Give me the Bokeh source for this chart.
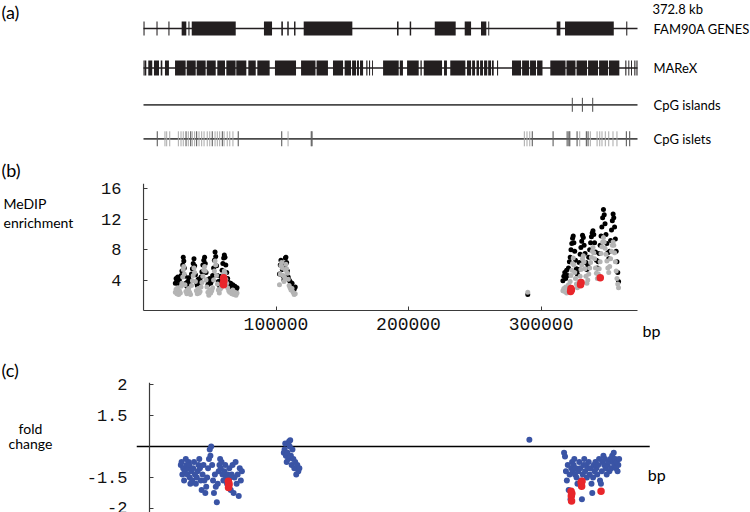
import numpy as np
from bokeh.plotting import figure
from bokeh.models import Range1d, FixedTicker, LinearAxis
from bokeh.layouts import column, row
from bokeh.core.properties import value
from bokeh.embed import file_html
from bokeh.resources import INLINE

# ---------------- data (positions in kb) ----------------
track_names = ["FAM90A GENES", "MAReX", "CpG islands", "CpG islets"]
region_kb = 372.8
region_label = "372.8 kb"
panel_tags = ["(a)", "(b)", "(c)"]
medip_title = ["MeDIP", "enrichment"]
fold_title = ["fold", "change"]
x_unit = "bp"

gene_start = [0.0, 9.8, 18.8, 28.8, 33.9, 36.4, 90.9, 104.0, 108.5, 113.6, 120.9, 191.3,
              200.9, 219.8, 242.4, 254.7, 260.2, 311.8, 318.1, 364.3]
gene_end = [0.8, 10.6, 19.6, 32.3, 34.7, 69.6, 97.0, 105.2, 109.6, 114.7, 157.6, 192.5,
            202.0, 235.6, 247.2, 258.7, 260.9, 314.6, 354.9, 365.1]

marex_start = [0.0, 0.9, 3.6, 7.9, 13.0, 16.2, 23.8, 32.6, 40.1, 47.7, 55.7, 62.5, 70.0, 79.1,
               85.9, 99.2, 118.9, 130.6, 143.0, 151.8, 157.4, 161.1, 163.4, 168.1, 170.2, 172.5,
               180.8, 193.4, 198.9, 209.0, 211.5, 226.8, 231.5, 244.1, 248.0, 251.3, 254.0, 257.0,
               260.1, 263.0, 266.8, 278.1, 285.7, 291.7, 297.0, 307.0, 319.2, 326.8, 335.5, 343.8,
               351.3, 363.6, 365.9, 367.9, 370.4, 372.0]
marex_end = [0.8, 2.1, 6.6, 11.7, 14.2, 19.2, 31.8, 39.4, 46.9, 54.5, 61.5, 69.5, 77.6, 84.7,
             95.2, 115.1, 129.8, 139.2, 150.6, 156.6, 160.4, 162.6, 165.7, 169.0, 171.0, 173.2,
             192.6, 195.8, 207.7, 210.0, 225.3, 229.0, 242.9, 247.2, 250.2, 253.2, 256.2, 259.4,
             262.3, 264.3, 267.6, 284.9, 291.0, 296.2, 301.1, 318.5, 326.0, 334.7, 343.0, 350.6,
             359.1, 364.4, 366.6, 368.6, 371.2, 372.8]

cpg_islands_kb = [323.6, 331.2, 339.0]
cpg_islets_strong_kb = [10.4, 32.1, 35.6, 40.1, 51.9, 59.5, 71.5, 104.3, 126.6, 127.2, 293.4,
                        309.1, 319.7, 321.0, 321.7, 327.2, 334.2, 335.5, 364.4, 366.9]
cpg_islets_weak_kb = [16.2, 17.5, 19.8, 26.3, 28.3, 30.0, 33.8, 36.8, 38.6, 41.9, 43.9, 45.7,
                      48.1, 50.0, 54.0, 55.7, 57.5, 60.8, 63.2, 65.1, 67.5, 109.1, 287.4, 289.4,
                      291.5, 329.2, 337.2, 342.3, 344.3, 346.0, 348.5, 351.1, 354.3, 357.3]

probe_kb = [
    24.0, 24.6, 25.2, 25.8, 26.5, 27.1, 27.8, 28.4, 29.0, 29.6,
    30.0, 30.4, 30.8, 31.3, 32.0, 32.7, 33.4, 34.1, 34.8, 35.5,
    36.2, 36.9, 37.5, 38.1, 38.6, 39.2, 39.9, 40.6, 41.3, 42.0,
    42.7, 43.4, 44.1, 44.8, 45.5, 46.1, 46.6, 47.2, 47.9, 48.6,
    49.3, 50.0, 50.7, 51.5, 52.2, 52.9, 53.5, 54.0, 54.5, 55.1,
    55.8, 56.5, 57.2, 57.9, 58.6, 59.3, 59.9, 60.5, 61.0, 61.5,
    62.1, 62.8, 63.5, 64.3, 65.0, 65.8, 66.6, 67.4, 68.2, 69.0,
    69.8, 70.6,
    102.6, 103.2, 103.7, 104.2, 104.8, 105.4, 106.0, 106.6, 107.1, 107.5,
    108.0, 108.6, 109.2, 109.9, 110.6, 111.3, 112.1, 112.9, 113.7, 114.5,
    290.0,
    316.5, 317.2, 317.9, 318.6, 319.3, 320.0, 320.7, 321.4, 322.0, 322.6,
    323.2, 323.8, 324.3, 324.8, 325.4, 326.0, 326.7, 327.4, 328.1, 328.8,
    329.5, 330.1, 330.7, 331.3, 331.9, 332.5, 333.2, 333.9, 334.6, 335.3,
    336.0, 336.7, 337.4, 338.0, 338.6, 339.2, 339.8, 340.4, 341.1, 341.8,
    342.5, 343.2, 343.9, 344.6, 345.3, 345.9, 346.5, 347.1, 347.7, 348.3,
    349.0, 349.7, 350.4, 351.1, 351.8, 352.5, 353.2, 353.8, 354.4, 354.9,
    355.5, 356.1, 356.7, 357.3, 357.9, 358.5]

medip_black = [
    3.6, 4.2, 3.9, 4.4, 3.3, 4.0, 3.5, 4.6, 5.2, 6.0,
    7.0, 6.5, 5.6, 4.5, 3.6, 3.2, 3.8, 4.3, 3.4, 3.9,
    4.8, 5.5, 6.2, 6.8, 5.9, 4.7, 3.7, 3.3, 4.1, 3.5,
    3.9, 4.4, 5.1, 6.0, 6.6, 7.0, 6.2, 5.0, 4.0, 3.4,
    3.7, 4.2, 3.6, 3.9, 4.6, 5.6, 6.6, 7.7, 7.1, 5.9,
    4.6, 3.8, 3.3, 3.9, 4.5, 5.3, 6.2, 6.9, 7.3, 7.0,
    6.0, 5.0, 4.2, 3.7, 3.2, 3.6, 3.0, 3.4, 2.8, 3.2,
    2.7, 3.0,
    4.8, 6.0, 6.6, 6.2, 5.4, 4.5, 4.0, 5.6, 6.9, 7.0,
    6.3, 5.2, 4.4, 4.0, 3.8, 3.5, 3.6, 3.0, 2.8, 3.1,
    2.1,
    3.9, 4.5, 5.0, 4.2, 5.3, 4.6, 5.6, 6.4, 7.0, 8.0,
    8.8, 9.5, 9.8, 8.9, 7.8, 6.6, 5.5, 4.8, 5.4, 6.3,
    7.4, 8.3, 9.1, 9.9, 9.6, 8.6, 7.5, 6.3, 5.4, 6.0,
    7.0, 8.0, 8.9, 9.7, 10.2, 10.5, 10.0, 8.9, 7.7, 6.6,
    5.6, 6.4, 7.5, 8.6, 9.8, 11.0, 12.2, 13.3, 12.6, 11.4,
    10.0, 8.8, 7.6, 6.8, 7.8, 9.2, 10.6, 11.8, 12.7, 12.2,
    11.0, 9.4, 7.8, 6.4, 5.0, 3.8]

medip_grey = [
    2.4, 2.8, 2.2, 3.0, 2.1, 2.6, 2.3, 3.2, 3.6, 4.4,
    5.4, 5.8, 4.8, 3.4, 2.5, 2.2, 2.7, 2.9, 2.4, 2.1,
    3.3, 3.9, 4.6, 5.6, 5.0, 3.8, 2.6, 2.2, 2.9, 2.3,
    2.5, 3.1, 3.7, 4.5, 5.3, 5.8, 5.2, 4.0, 3.1, 2.4,
    2.0, 2.7, 2.3, 2.6, 3.0, 4.0, 5.2, 6.5, 6.0, 4.6,
    3.5, 2.7, 2.3, 2.8, 3.0, 3.5, 4.3, 4.8, 5.2, 4.9,
    4.1, 3.6, 3.0, 2.6, 2.4, 2.5, 2.2, 2.7, 2.1, 2.4,
    2.0, 2.3,
    3.4, 4.8, 5.9, 6.3, 5.6, 4.6, 3.8, 4.3, 5.3, 6.1,
    5.5, 4.9, 4.1, 3.3, 3.0, 2.7, 2.9, 2.4, 2.1, 2.2,
    2.4,
    2.6, 2.9, 2.5, 3.1, 2.3, 2.8, 3.4, 2.6, 3.8, 4.6,
    5.3, 6.2, 6.9, 6.0, 5.0, 4.2, 3.5, 3.0, 3.3, 3.8,
    4.5, 5.4, 6.0, 6.8, 7.2, 6.4, 5.5, 4.5, 3.6, 4.0,
    4.8, 5.6, 6.3, 7.0, 7.8, 8.3, 7.6, 6.8, 5.6, 4.9,
    4.2, 4.8, 5.5, 6.4, 7.5, 8.4, 9.0, 9.6, 9.0, 8.2,
    7.4, 6.5, 5.6, 5.0, 5.8, 6.8, 7.8, 8.6, 9.0, 8.6,
    7.6, 6.4, 5.2, 4.2, 3.5, 3.0]

fold_change = [
    -1.30, -1.25, -1.45, -1.35, -1.55, -1.40, -1.20, -1.30, -1.45, -1.35,
    -1.25, -1.30, -1.50, -1.60, -1.40, -1.55, -1.35, -1.25, -1.45, -1.60,
    -1.50, -1.40, -1.30, -1.20, -1.35, -1.55, -1.70, -1.45, -1.30, -1.55,
    -1.75, -1.65, -1.50, -1.35, -1.20, -1.05, -1.15, -1.00, -1.30, -1.55,
    -1.75, -1.45, -1.65, -1.90, -1.60, -1.40, -1.30, -1.20, -1.35, -1.25,
    -1.45, -1.55, -1.40, -1.30, -1.50, -1.60, -1.45, -1.55, -1.35, -1.50,
    -1.70, -1.45, -1.30, -1.75, -1.50, -1.25, -1.60, -1.45, -1.80, -1.35,
    -1.55, -1.40,
    -1.10, -1.05, 1.05, -1.15, -1.25, -1.10, -1.20, 1.08, -1.00, 1.10,
    -1.15, -1.30, -1.05, -1.20, -1.35, -1.25, -1.45, -1.30, -1.40, -1.35,
    1.11,
    -1.10, -1.16, -1.40, -1.55, -1.30, -1.70, -1.45, -1.85, -1.35, -1.25,
    -1.40, -1.30, -1.20, -1.45, -1.35, -1.50, -1.60, -1.40, -1.25, -1.35,
    -1.55, -1.85, -1.45, -1.30, -1.20, -1.40, -1.30, -1.50, -1.35, -1.25,
    -1.45, -1.35, -1.60, -1.75, -1.50, -1.30, -1.40, -1.25, -1.35, -1.45,
    -1.30, -1.20, -1.55, -1.60, -1.40, -1.25, -1.15, -1.30, -1.20, -1.35,
    -1.45, -1.30, -1.25, -1.40, -1.20, -1.35, -1.15, -1.25, -1.10, -1.30,
    -1.20, -1.35, -1.25, -1.40, -1.30, -1.20]

red_medip_kb = [60.2, 60.5, 60.7, 60.4, 322.3, 322.6, 322.9, 329.8, 330.2, 344.7]
red_medip = [3.6, 4.3, 3.9, 3.4, 2.5, 2.9, 2.7, 3.4, 3.7, 4.3]
red_fold_kb = [60.3, 60.6, 60.8, 60.4, 321.8, 322.0, 322.2, 322.4, 329.5, 329.9, 330.2, 344.7]
red_fold = [-1.56, -1.63, -1.60, -1.66, -1.72, -1.80, -1.88, -1.76, -1.58, -1.64, -1.56, -1.72]

medip_ticks = [4, 8, 12, 16]
bp_ticks = [100000, 200000, 300000]
fold_ticks = [-2, -1.5, 1.5, 2]

# ---------------- layout constants (pixels; page has no margin) ----------------
PAGE_W, PAGE_H = 750, 512
LW = 83                   # left text column width
CW = PAGE_W - LW          # chart column width
AX_X = 143 - LW           # x of 0 bp inside the chart column
FRAME_R = 670 - LW        # right edge of the plot frames
PX_PER_BP = 494 / (region_kb * 1000)
INK = "#231f20"
AXC = "#3a3a3a"
GREY = "#b4b4b4"
RED = "#e8262b"
BLUE = "#3a54a5"
SANS = "Lato"
MONO = "Liberation Mono"
MEDIP_PX = 7.6            # px per MeDIP unit
FOLD_PX = 31.0            # px per fold-change axis unit


def bp(kb):
    return np.asarray(kb, dtype=float) * 1000.0


def fold_to_axis(f):
    f = np.asarray(f, dtype=float)
    return np.sign(f) * (np.abs(f) - 1.0) * 2.0


def base_fig(**kw):
    p = figure(output_backend="svg", toolbar_location=None, frame_align=False, **kw)
    p.outline_line_color = None
    p.background_fill_color = "white"
    p.border_fill_color = "white"
    p.grid.visible = False
    return p


def label_axis(ax, size, standoff):
    """axis that only carries the tick labels"""
    ax.axis_line_color = None
    ax.major_tick_line_color = None
    ax.minor_tick_line_color = None
    ax.major_label_text_font = MONO
    ax.major_label_text_font_size = size
    ax.major_label_text_color = "#111111"
    ax.major_label_standoff = standoff


def line_axis(ticks, bounds):
    """axis drawn on the 0 bp position: rule + inward ticks, no labels"""
    ax = LinearAxis(fixed_location=0, bounds=bounds, ticker=FixedTicker(ticks=ticks),
                    axis_line_color=AXC, axis_line_width=1.2,
                    major_tick_line_color=AXC, major_tick_in=4, major_tick_out=0,
                    minor_tick_line_color=None, major_label_text_color=None,
                    major_label_standoff=0)
    return ax


# ---------------- left text column ----------------
pl = base_fig(width=LW, height=PAGE_H, x_range=Range1d(0, LW), y_range=Range1d(PAGE_H, 0),
              min_border=0, x_axis_location=None, y_axis_location=None)
pl.text(x=[1, 1, 1], y=[0, 158, 358], text=panel_tags, text_font=value(SANS),
        text_font_size="18px", text_baseline="top", text_color="black")
pl.text(x=[3, 3], y=[203, 222], text=medip_title, text_font=value(SANS),
        text_font_size="14px", text_baseline="alphabetic", text_color="black")
pl.text(x=[30, 30], y=[428, 443], text=fold_title, text_font=value(SANS),
        text_font_size="14px", text_baseline="alphabetic", text_align="center",
        text_color="black")

# ---------------- panel (a): tracks ----------------
HA = 160
pa = base_fig(width=CW, height=HA, x_range=Range1d(-AX_X / PX_PER_BP, (CW - AX_X) / PX_PER_BP),
              y_range=Range1d(HA, 0), min_border=0,
              x_axis_location=None, y_axis_location=None)
rows = [28.0, 67.5, 104.3, 138.3]
end_bp = region_kb * 1000
pa.segment(x0=[0, 0], x1=[end_bp, end_bp], y0=rows[:2], y1=rows[:2],
           line_color=INK, line_width=1.3)
pa.segment(x0=[0, 0], x1=[end_bp, end_bp], y0=rows[2:], y1=rows[2:],
           line_color="#4a4a4a", line_width=1.8)
pa.quad(left=bp(gene_start), right=bp(gene_end), top=rows[0] - 7, bottom=rows[0] + 7,
        fill_color=INK, line_color=None)
pa.quad(left=bp(marex_start), right=bp(marex_end), top=rows[1] - 7.5, bottom=rows[1] + 7.5,
        fill_color=INK, line_color=None)
isl = bp(cpg_islands_kb)
pa.segment(x0=isl, x1=isl, y0=rows[2] - 7, y1=rows[2] + 7, line_color="#4a4a4a", line_width=1)
w = bp(cpg_islets_weak_kb)
pa.segment(x0=w, x1=w, y0=rows[3] - 7.5, y1=rows[3] + 7.5, line_color="#a8a8a8", line_width=1)
s = bp(cpg_islets_strong_kb)
pa.segment(x0=s, x1=s, y0=rows[3] - 7.5, y1=rows[3] + 7.5, line_color="#5e5e5e", line_width=1.1)
lab_x = (653 - 143) / PX_PER_BP
pa.text(x=[lab_x] * 4, y=rows, text=track_names, text_font=value(SANS),
        text_font_size="13px", text_baseline="middle", text_align="left", text_color="black")
pa.text(x=[(652 - 143) / PX_PER_BP], y=[0.0], text=[region_label], text_font=value(SANS),
        text_font_size="13px", text_baseline="top", text_align="left", text_color="black")

# ---------------- panel (b): MeDIP enrichment ----------------
B_TOP, B_FH, B_BOT = 23, 156, 29          # page y 160 .. 368, frame 183 .. 339
B_FL = AX_X - 1                           # frame starts 1px left of 0 bp
y_top_b = (310 - 183) / MEDIP_PX
y_bot_b = -(183 + B_FH - 310) / MEDIP_PX
xb_start = -(AX_X - B_FL) / PX_PER_BP
pb = base_fig(width=CW, height=B_TOP + B_FH + B_BOT,
              x_range=Range1d(xb_start, xb_start + (FRAME_R - B_FL) / PX_PER_BP),
              y_range=Range1d(y_bot_b, y_top_b),
              min_border_left=B_FL, min_border_right=CW - FRAME_R,
              min_border_top=B_TOP, min_border_bottom=B_BOT)
pb.scatter(bp(probe_kb), medip_black, size=5, fill_color="black", line_color=None)
pb.scatter(bp(probe_kb), medip_grey, size=5, fill_color=GREY, line_color=None)
pb.scatter(bp(red_medip_kb), red_medip, size=7.5, fill_color=RED, line_color=None)
xb = pb.xaxis[0]
xb.fixed_location = 0
xb.bounds = (0, end_bp)
xb.ticker = FixedTicker(ticks=bp_ticks)
xb.major_label_overrides = {t: str(t) for t in bp_ticks}
xb.axis_line_color = AXC
xb.axis_line_width = 1.2
xb.major_tick_line_color = AXC
xb.major_tick_in = 4
xb.major_tick_out = 0
xb.minor_tick_line_color = None
xb.major_label_text_font = MONO
xb.major_label_text_font_size = "18px"
xb.major_label_text_color = "#111111"
xb.major_label_standoff = 7
yb = pb.yaxis[0]
yb.ticker = FixedTicker(ticks=medip_ticks)
label_axis(yb, "17px", 15)
pb.add_layout(line_axis(medip_ticks, (0, y_top_b)), "left")
pb.text(x=[(642 - 143) / PX_PER_BP], y=[-(330 - 310) / MEDIP_PX], text=[x_unit],
        text_font=value(SANS), text_font_size="16px", text_baseline="alphabetic",
        text_color="black")

# ---------------- panel (c): fold change ----------------
C_TOP = 382 - 368                          # page y 368 .. 512, frame 382 .. 512
C_FH = PAGE_H - 382
C_FL = 130 - LW                            # frame starts where the baseline starts
t_top = (446 - 382) / FOLD_PX
t_bot = -(PAGE_H - 446) / FOLD_PX
xc_start = -(AX_X - C_FL) / PX_PER_BP
pc = base_fig(width=CW, height=C_TOP + C_FH,
              x_range=Range1d(xc_start, xc_start + (FRAME_R - C_FL) / PX_PER_BP),
              y_range=Range1d(t_bot, t_top),
              min_border_left=C_FL, min_border_right=CW - FRAME_R,
              min_border_top=C_TOP, min_border_bottom=0, x_axis_location=None)
pc.segment(x0=[xc_start], x1=[(649 - 143) / PX_PER_BP], y0=[0], y1=[0],
           line_color="black", line_width=1.5)
pc.scatter(bp(probe_kb), fold_to_axis(fold_change), size=6, fill_color=BLUE, line_color=None)
pc.scatter(bp(red_fold_kb), fold_to_axis(red_fold), size=7.5, fill_color=RED, line_color=None)
tick_pos = [float(v) for v in fold_to_axis(fold_ticks)]
yc = pc.yaxis[0]
yc.ticker = FixedTicker(ticks=tick_pos)
yc.major_label_overrides = {p_: (str(t) if t != int(t) else str(int(t)))
                            for p_, t in zip(tick_pos, fold_ticks)}
label_axis(yc, "17px", 3)
pc.add_layout(line_axis(tick_pos, (t_bot, t_top)), "left")
pc.text(x=[(647 - 143) / PX_PER_BP], y=[(446 - 474) / FOLD_PX], text=[x_unit],
        text_font=value(SANS), text_font_size="16px", text_baseline="alphabetic",
        text_color="black")

layout = row(pl, column(pa, pb, pc, spacing=0), spacing=0)
open("out.html", "w").write(file_html(layout, INLINE))
